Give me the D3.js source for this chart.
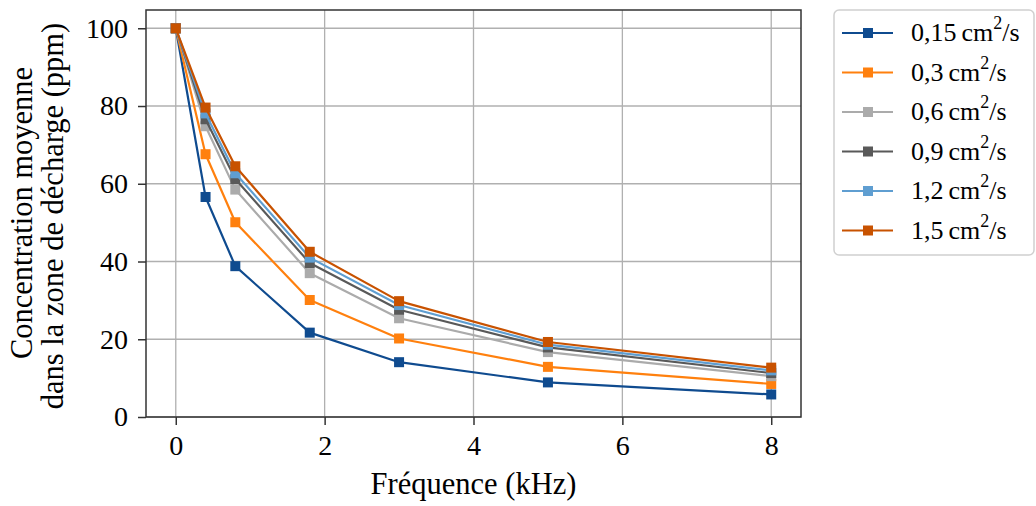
<!DOCTYPE html>
<html><head><meta charset="utf-8">
<script src="https://cdn.jsdelivr.net/npm/d3@7"></script>
<style>body{margin:0;background:#fff}svg{display:block}text{font-family:"Liberation Serif","Times New Roman",serif;fill:#000}</style>
</head><body>
<svg id="c" width="1036" height="506"></svg>
<script>
const freq = [0, 0.4, 0.8, 1.8, 3, 5, 8];
const seriesLabels = ["0,15", "0,3", "0,6", "0,9", "1,2", "1,5"];
const colors = ["#0f4b8f", "#ff800e", "#ababab", "#595959", "#5f9ed1", "#c85200"];
const s015 = [100, 56.6, 38.8, 21.7, 14.1, 8.9, 5.8];
const s03  = [100, 67.6, 50.1, 30.1, 20.2, 12.9, 8.5];
const s06  = [100, 74.8, 58.5, 37.0, 25.4, 16.7, 10.5];
const s09  = [100, 76.6, 61.2, 39.6, 27.6, 17.9, 11.3];
const s12  = [100, 78.1, 62.7, 41.0, 28.8, 18.6, 12.0];
const s15  = [100, 79.6, 64.5, 42.5, 29.8, 19.3, 12.7];
const seriesValues = [s015, s03, s06, s09, s12, s15];
const xTicks = [0, 2, 4, 6, 8];
const yTicks = [0, 20, 40, 60, 80, 100];

const svg = d3.select("#c");
const L = 146, R = 801, T = 10, B = 417;
const x = d3.scaleLinear().domain([-0.4, 8.4]).range([L, R]);
const y = d3.scaleLinear().domain([0, 104.7]).range([B, T]);

// grid
const g = svg.append("g");
g.selectAll(".gx").data(xTicks).join("line")
  .attr("x1", d => x(d)).attr("x2", d => x(d)).attr("y1", T).attr("y2", B)
  .attr("stroke", "#b0b0b0").attr("stroke-width", 1.3);
g.selectAll(".gy").data(yTicks).join("line")
  .attr("y1", d => y(d)).attr("y2", d => y(d)).attr("x1", L).attr("x2", R)
  .attr("stroke", "#b0b0b0").attr("stroke-width", 1.3);

// series
const line = d3.line().x((d, i) => x(freq[i])).y(d => y(d));
seriesValues.forEach((vals, k) => {
  const sg = svg.append("g");
  sg.append("path").attr("d", line(vals)).attr("fill", "none")
    .attr("stroke", colors[k]).attr("stroke-width", 2.2).attr("stroke-linejoin", "round");
  sg.selectAll("rect").data(vals).join("rect")
    .attr("x", (d, i) => x(freq[i]) - 5).attr("y", d => y(d) - 5)
    .attr("width", 10).attr("height", 10).attr("fill", colors[k]);
});

// axes
const xAxis = svg.append("g").attr("transform", `translate(0,${B})`)
  .call(d3.axisBottom(x).tickValues(xTicks).tickSize(8).tickPadding(10).tickFormat(d3.format("d")));
const yAxis = svg.append("g").attr("transform", `translate(${L},0)`)
  .call(d3.axisLeft(y).tickValues(yTicks).tickSize(8).tickPadding(10).tickFormat(d3.format("d")));
[xAxis, yAxis].forEach(a => {
  a.select(".domain").remove();
  a.selectAll(".tick line").attr("stroke", "#333").attr("stroke-width", 1.5);
  a.selectAll(".tick text").attr("font-family", "Liberation Serif").attr("font-size", 28).attr("fill", "#000");
});
svg.append("rect").attr("x", L).attr("y", T).attr("width", R - L).attr("height", B - T)
  .attr("fill", "none").attr("stroke", "#333").attr("stroke-width", 1.5);

// axis labels
svg.append("text").attr("x", (L + R) / 2).attr("y", 494).attr("text-anchor", "middle")
  .attr("font-size", 30.5).text("Fréquence (kHz)");
svg.append("text").attr("transform", `translate(32,213) rotate(-90)`)
  .attr("text-anchor", "middle").attr("font-size", 30.5).text("Concentration moyenne");
svg.append("text").attr("transform", `translate(63,216) rotate(-90)`)
  .attr("text-anchor", "middle").attr("font-size", 30.5).text("dans la zone de décharge (ppm)");

// legend
const lg = svg.append("g");
lg.append("rect").attr("x", 834).attr("y", 10).attr("width", 200).attr("height", 245)
  .attr("rx", 5).attr("fill", "#fff").attr("stroke", "#d0d0d0").attr("stroke-width", 1.5);
seriesLabels.forEach((lab, k) => {
  const cy = 33 + k * 39.5;
  lg.append("line").attr("x1", 842).attr("x2", 893).attr("y1", cy).attr("y2", cy)
    .attr("stroke", colors[k]).attr("stroke-width", 2.2);
  lg.append("rect").attr("x", 863).attr("y", cy - 5).attr("width", 10).attr("height", 10).attr("fill", colors[k]);
  const t = lg.append("text").attr("x", 911).attr("y", cy + 8).attr("font-size", 26);
  t.append("tspan").text(lab);
  t.append("tspan").attr("dx", 5).text("cm");
  t.append("tspan").attr("dy", -12).attr("font-size", 18).text("2");
  t.append("tspan").attr("dy", 12).attr("font-size", 26).text("/s");
});
</script>
</body></html>
